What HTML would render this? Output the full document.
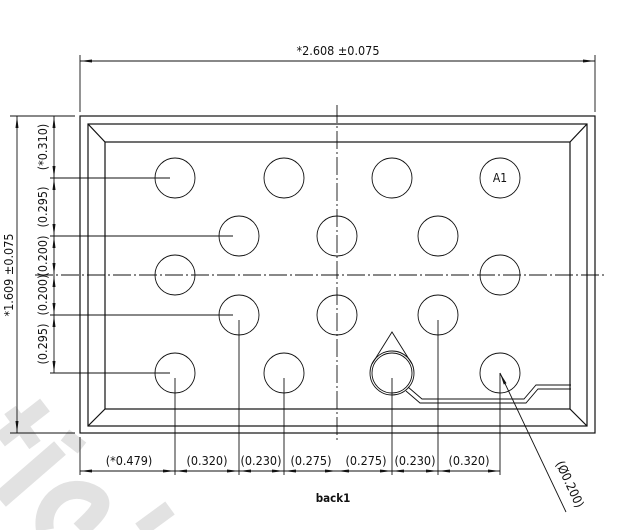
<!DOCTYPE html>
<html><head><meta charset="utf-8"><style>
html,body{margin:0;padding:0;background:#fff;}
svg{display:block;}
text{font-family:"DejaVu Sans Condensed","Liberation Sans Narrow","Liberation Sans",sans-serif;fill:#111;}
</style></head><body>
<svg width="636" height="530" viewBox="0 0 636 530" xmlns="http://www.w3.org/2000/svg">
<defs>
<marker id="a" viewBox="0 0 12 4" refX="12" refY="2" markerWidth="12" markerHeight="4" orient="auto-start-reverse" markerUnits="userSpaceOnUse"><path d="M0,0.5 L12,2 L0,3.5z" fill="#111"/></marker>
</defs>
<!-- watermark -->
<g stroke="#e2e2e2" fill="none" stroke-linecap="butt">
<line x1="0" y1="440" x2="45" y2="405" stroke-width="16"/>
<line x1="10" y1="410" x2="35" y2="445" stroke-width="14"/>
<line x1="65" y1="435" x2="82" y2="448" stroke-width="14"/>
<line x1="0" y1="500" x2="60" y2="448" stroke-width="18"/>
<path d="M45,530 C40,500 70,480 95,495 C110,505 90,520 80,530" stroke-width="18"/>
<line x1="140" y1="530" x2="170" y2="508" stroke-width="16"/>
</g>
<g stroke="#111" stroke-width="1.2" fill="none">
<rect x="80" y="116" width="515" height="317"/>
<rect x="88" y="124" width="499" height="302"/>
<rect x="105" y="142" width="465" height="267"/>
<line x1="88" y1="124" x2="105" y2="142"/><line x1="587" y1="124" x2="570" y2="142"/>
<line x1="88" y1="426" x2="105" y2="409"/><line x1="587" y1="426" x2="570" y2="409"/>
</g>
<g stroke="#111" stroke-width="0.9" fill="none">
<line x1="337" y1="105" x2="337" y2="442" stroke-dasharray="18,3,2,3"/>
<line x1="35" y1="275" x2="605" y2="275" stroke-dasharray="18,3,2,3"/>
<line x1="80" y1="55" x2="80" y2="112"/><line x1="595" y1="55" x2="595" y2="112"/>
<line x1="80" y1="61" x2="595" y2="61" marker-start="url(#a)" marker-end="url(#a)"/>
<line x1="10" y1="116" x2="75" y2="116"/><line x1="10" y1="433" x2="75" y2="433"/>
<line x1="17" y1="116" x2="17" y2="433" marker-start="url(#a)" marker-end="url(#a)"/>
<line x1="50" y1="178" x2="170" y2="178"/>
<line x1="50" y1="236" x2="233" y2="236"/>
<line x1="50" y1="315" x2="233" y2="315"/>
<line x1="50" y1="373" x2="170" y2="373"/>
<line x1="54" y1="116" x2="54" y2="178" marker-start="url(#a)" marker-end="url(#a)"/>
<line x1="54" y1="178" x2="54" y2="236" marker-start="url(#a)" marker-end="url(#a)"/>
<line x1="54" y1="236" x2="54" y2="275" marker-start="url(#a)" marker-end="url(#a)"/>
<line x1="54" y1="275" x2="54" y2="315" marker-start="url(#a)" marker-end="url(#a)"/>
<line x1="54" y1="315" x2="54" y2="373" marker-start="url(#a)" marker-end="url(#a)"/>
<circle cx="175" cy="178" r="20"/><circle cx="284" cy="178" r="20"/><circle cx="392" cy="178" r="20"/><circle cx="500" cy="178" r="20"/>
<circle cx="239" cy="236" r="20"/><circle cx="337" cy="236" r="20"/><circle cx="438" cy="236" r="20"/>
<circle cx="175" cy="275" r="20"/><circle cx="500" cy="275" r="20"/>
<circle cx="239" cy="315" r="20"/><circle cx="337" cy="315" r="20"/><circle cx="438" cy="315" r="20"/>
<circle cx="175" cy="373" r="20"/><circle cx="284" cy="373" r="20"/><circle cx="392" cy="373" r="20"/><circle cx="500" cy="373" r="20"/>
<circle cx="392" cy="373" r="22"/>
<path d="M372,364 L392,332 L412,364"/>
<path d="M408,387 L422,399 L524,399 L536,385 L571,385"/>
<path d="M406,391 L420,403 L526,403 L538,389 L571,389"/>
<line x1="80" y1="437" x2="80" y2="475"/>
<line x1="175" y1="378" x2="175" y2="475"/>
<line x1="239" y1="320" x2="239" y2="475"/>
<line x1="284" y1="378" x2="284" y2="475"/>
<line x1="392" y1="378" x2="392" y2="475"/>
<line x1="438" y1="320" x2="438" y2="475"/>
<line x1="500" y1="373" x2="500" y2="475"/>
<line x1="80" y1="471" x2="175" y2="471" marker-start="url(#a)" marker-end="url(#a)"/>
<line x1="175" y1="471" x2="239" y2="471" marker-start="url(#a)" marker-end="url(#a)"/>
<line x1="239" y1="471" x2="284" y2="471" marker-start="url(#a)" marker-end="url(#a)"/>
<line x1="284" y1="471" x2="337" y2="471" marker-start="url(#a)" marker-end="url(#a)"/>
<line x1="337" y1="471" x2="392" y2="471" marker-start="url(#a)" marker-end="url(#a)"/>
<line x1="392" y1="471" x2="438" y2="471" marker-start="url(#a)" marker-end="url(#a)"/>
<line x1="438" y1="471" x2="500" y2="471" marker-start="url(#a)" marker-end="url(#a)"/>
<line x1="566" y1="512" x2="500" y2="373" marker-end="url(#a)"/>
</g>
<g font-size="12.5">
<text x="338" y="55" text-anchor="middle">*2.608 ±0.075</text>
<text x="500" y="182" text-anchor="middle" font-size="12">A1</text>
<text transform="translate(13,275) rotate(-90)" text-anchor="middle">*1.609 ±0.075</text>
<text transform="translate(47,147) rotate(-90)" text-anchor="middle">(*0.310)</text>
<text transform="translate(47,207) rotate(-90)" text-anchor="middle">(0.295)</text>
<text transform="translate(47,256) rotate(-90)" text-anchor="middle">(0.200)</text>
<text transform="translate(47,295) rotate(-90)" text-anchor="middle">(0.200)</text>
<text transform="translate(47,344) rotate(-90)" text-anchor="middle">(0.295)</text>
<text x="129" y="465" text-anchor="middle">(*0.479)</text>
<text x="207" y="465" text-anchor="middle">(0.320)</text>
<text x="261" y="465" text-anchor="middle">(0.230)</text>
<text x="311" y="465" text-anchor="middle">(0.275)</text>
<text x="366" y="465" text-anchor="middle">(0.275)</text>
<text x="415" y="465" text-anchor="middle">(0.230)</text>
<text x="469" y="465" text-anchor="middle">(0.320)</text>
<text transform="translate(566,486) rotate(65)" text-anchor="middle">(Ø0.200)</text>
<text x="333" y="502" text-anchor="middle" font-weight="bold" font-size="11.5">back1</text>
</g>
</svg>
</body></html>
